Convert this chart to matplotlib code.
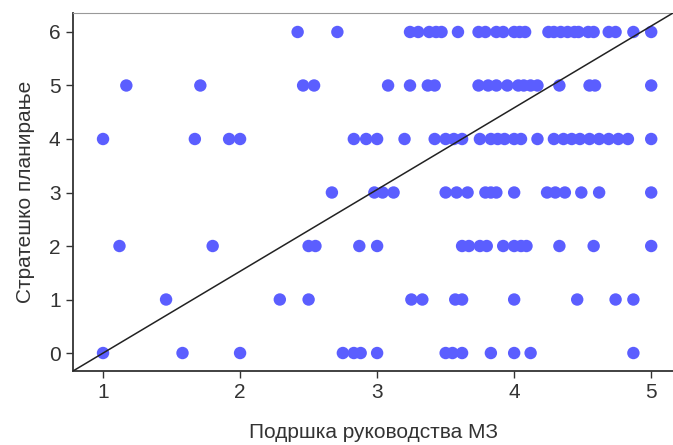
import matplotlib.pyplot as plt

# Подршка руководства МЗ (x) по нивоима стратешког планирања (y)
x_6 = [2.42, 2.71, 3.24, 3.30, 3.38, 3.43, 3.47, 3.59, 3.74, 3.79, 3.87, 3.92,
       4.00, 4.04, 4.08, 4.25, 4.29, 4.34, 4.39, 4.44, 4.47, 4.54, 4.58, 4.69,
       4.74, 4.87, 5.00]
x_5 = [1.17, 1.71, 2.46, 2.54, 3.08, 3.24, 3.37, 3.42, 3.74, 3.81, 3.87, 3.95,
       4.03, 4.07, 4.12, 4.17, 4.33, 4.55, 4.59, 5.00]
x_4 = [1.00, 1.67, 1.92, 2.00, 2.83, 2.92, 3.00, 3.20, 3.42, 3.50, 3.56, 3.62,
       3.75, 3.83, 3.88, 3.93, 4.00, 4.05, 4.17, 4.29, 4.36, 4.42, 4.48, 4.55,
       4.62, 4.69, 4.76, 4.83, 5.00]
x_3 = [2.67, 2.98, 3.04, 3.12, 3.50, 3.58, 3.66, 3.79, 3.83, 3.87, 4.00, 4.24,
       4.30, 4.37, 4.49, 4.62, 5.00]
x_2 = [1.12, 1.80, 2.50, 2.55, 2.87, 3.00, 3.62, 3.67, 3.75, 3.80, 3.92, 4.00,
       4.05, 4.09, 4.33, 4.58, 5.00]
x_1 = [1.46, 2.29, 2.50, 3.25, 3.33, 3.57, 3.62, 4.00, 4.46, 4.74, 4.87]
x_0 = [1.00, 1.58, 2.00, 2.75, 2.83, 2.88, 3.00, 3.50, 3.55, 3.62, 3.83, 4.00,
       4.12, 4.87]

levels = [6, 5, 4, 3, 2, 1, 0]
rows = [x_6, x_5, x_4, x_3, x_2, x_1, x_0]

plt.rcParams['font.family'] = ['Liberation Sans', 'DejaVu Sans']

fig = plt.figure(figsize=(6.73, 4.45), dpi=100)
ax = fig.add_axes([0.1085, 0.1663, 0.8915, 0.8045])

xs, ys = [], []
for lvl, row in zip(levels, rows):
    xs += row
    ys += [lvl] * len(row)
ax.scatter(xs, ys, s=80, color='#5b5eff', edgecolors='none', zorder=3)

# дијагонала
ax.plot([0, 1], [0, 1], transform=ax.transAxes, color='#222222', lw=1.1, zorder=4)

ax.set_xlim(0.781, 5.159)
ax.set_ylim(-0.336, 6.355)
ax.set_xticks([1, 2, 3, 4, 5])
ax.set_yticks([0, 1, 2, 3, 4, 5, 6])

for side in ['left', 'bottom']:
    ax.spines[side].set_color('#333333')
    ax.spines[side].set_linewidth(1.3)
ax.spines['top'].set_color('#999999')
ax.spines['right'].set_visible(False)

ax.tick_params(direction='out', length=5, width=1, colors='#333333',
               labelsize=15, labelcolor='#333333', pad=4)

ax.set_xlabel('Подршка руководства МЗ', fontsize=15, color='#333333', labelpad=15)
ax.set_ylabel('Стратешко планирање', fontsize=15, color='#333333', labelpad=10)

fig.savefig('out.png', dpi=100)
